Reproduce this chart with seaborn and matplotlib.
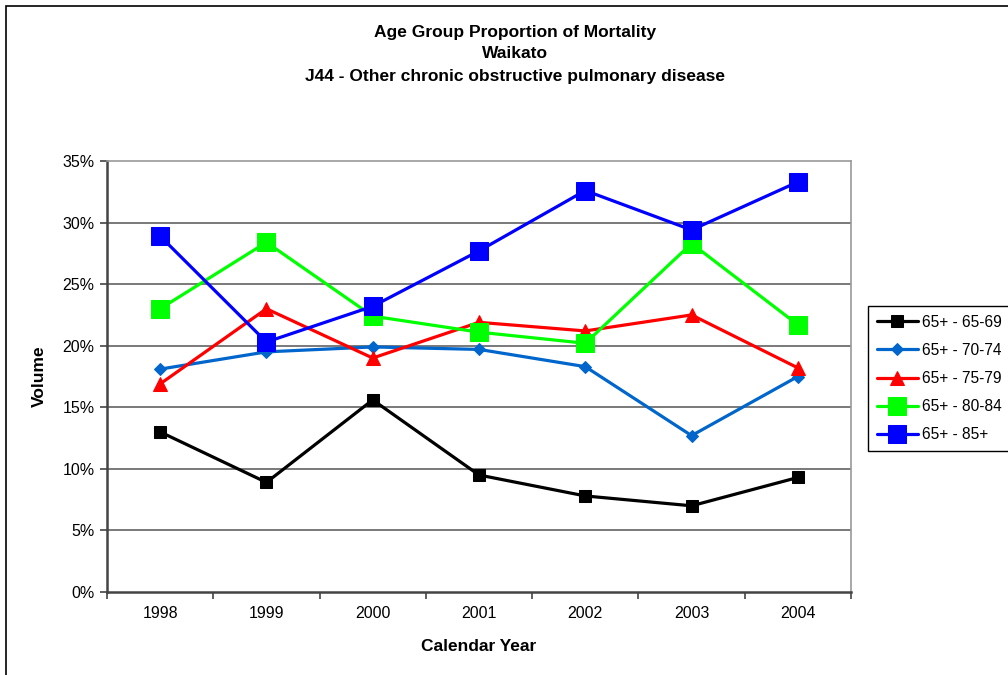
import numpy as np
import pandas as pd
import matplotlib
matplotlib.use("Agg")
import matplotlib.pyplot as plt
import seaborn as sns
from matplotlib.ticker import PercentFormatter, FixedLocator, NullFormatter
from matplotlib.patches import Rectangle

# Proportion of J44 deaths in each age group (percent), Waikato
years = ["1998", "1999", "2000", "2001", "2002", "2003", "2004"]
age_65_69 = [13.0, 8.9, 15.6, 9.5, 7.8, 7.0, 9.3]
age_70_74 = [18.1, 19.5, 19.9, 19.7, 18.3, 12.7, 17.5]
age_75_79 = [16.9, 23.0, 19.0, 21.9, 21.2, 22.5, 18.2]
age_80_84 = [23.0, 28.4, 22.4, 21.1, 20.2, 28.3, 21.7]
age_85_plus = [28.9, 20.3, 23.2, 27.7, 32.6, 29.4, 33.3]
series_names = ["65+ - 65-69", "65+ - 70-74", "65+ - 75-79", "65+ - 80-84", "65+ - 85+"]

series_values = [age_65_69, age_70_74, age_75_79, age_80_84, age_85_plus]
rows = []
for name, vals in zip(series_names, series_values):
    for i, (yr, v) in enumerate(zip(years, vals)):
        rows.append({"series": name, "pos": i + 1, "year": yr, "value": v / 100.0})
df = pd.DataFrame(rows)

styles = {
    "65+ - 65-69": dict(color="#000000", marker="s", ms=8.5),
    "65+ - 70-74": dict(color="#0066CC", marker="D", ms=6.5),
    "65+ - 75-79": dict(color="#FF0000", marker="^", ms=9.5),
    "65+ - 80-84": dict(color="#00FF00", marker="s", ms=12.5),
    "65+ - 85+": dict(color="#0000FF", marker="s", ms=12.5),
}

sns.set_style("white")
plt.rcParams["font.family"] = ["Liberation Sans", "DejaVu Sans"]
plt.rcParams["text.color"] = "#000000"
plt.rcParams["axes.labelcolor"] = "#000000"
plt.rcParams["xtick.color"] = "#000000"
plt.rcParams["ytick.color"] = "#000000"

W, H = 1008, 675
fig = plt.figure(figsize=(W / 100, H / 100), dpi=100)
ax = fig.add_axes([107 / W, 1 - 592 / H, (851 - 107) / W, (592 - 161) / H])

for name in series_names:
    st = styles[name]
    sub = df[df["series"] == name]
    sns.lineplot(data=sub, x="pos", y="value", ax=ax, color=st["color"],
                 marker=st["marker"], markersize=st["ms"], markeredgecolor=st["color"],
                 markerfacecolor=st["color"], linewidth=2.3, label=name, legend=False)

ax.set_xlim(0.5, 7.5)
ax.set_ylim(0, 0.35)

# Category ticks at the boundaries, labels at the centres
ax.xaxis.set_major_locator(FixedLocator(np.arange(0.5, 8.0, 1.0)))
ax.xaxis.set_major_formatter(NullFormatter())
ax.xaxis.set_minor_locator(FixedLocator(np.arange(1, 8)))
ax.set_xticklabels(years, minor=True)
ax.tick_params(axis="x", which="major", direction="out", length=5, width=1.2, color="#444444", bottom=True)
ax.tick_params(axis="x", which="minor", length=0, pad=10, labelsize=11.5, bottom=True)

ax.set_yticks(np.arange(0, 0.351, 0.05))
ax.yaxis.set_major_formatter(PercentFormatter(1.0, decimals=0))
ax.tick_params(axis="y", direction="out", length=5, width=1.2, color="#444444", left=True, labelsize=11.5, pad=4)

for yv in np.arange(0.05, 0.31, 0.05):
    ax.axhline(yv, color="#555555", linewidth=1.1, zorder=0)

for side in ["left", "bottom"]:
    ax.spines[side].set_color("#444444")
    ax.spines[side].set_linewidth(1.8)
for side in ["top", "right"]:
    ax.spines[side].set_visible(True)
    ax.spines[side].set_color("#999999")
    ax.spines[side].set_linewidth(1.2)

ax.set_xlabel("Calendar Year", fontsize=12.5, fontweight="bold", labelpad=13)
ax.set_ylabel("Volume", fontsize=12.5, fontweight="bold", labelpad=11)

title_lines = ["Age Group Proportion of Mortality", "Waikato",
               "J44 - Other chronic obstructive pulmonary disease"]
for txt, yc in zip(title_lines, [33, 54, 77]):
    fig.text(515 / W, 1 - yc / H, txt, ha="center", va="center", fontsize=12.5, fontweight="bold")

handles, labels = ax.get_legend_handles_labels()
leg = fig.legend(handles, labels, loc="upper left", bbox_to_anchor=(868 / W, 1 - 306 / H),
                 fontsize=11.2, frameon=True, fancybox=False, framealpha=1,
                 edgecolor="#000000", handlelength=2.65, handletextpad=0.25,
                 labelspacing=0.85, borderpad=0.55, borderaxespad=0)
leg.get_frame().set_linewidth(1.0)

# Chart-area border
fig.patches.append(Rectangle((6 / W, -0.1), 1.2, 1 - 6 / H + 0.1, transform=fig.transFigure,
                             fill=False, edgecolor="#000000", linewidth=1.2))

fig.savefig("out.png", dpi=100)
